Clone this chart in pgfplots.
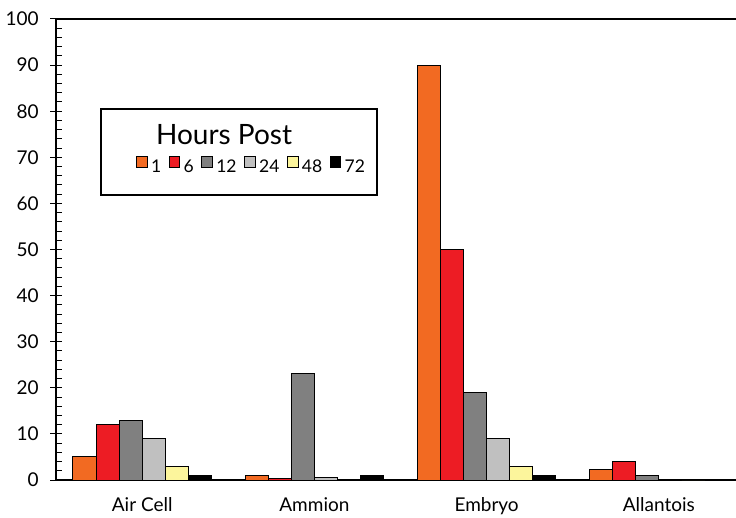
\documentclass[border=0pt]{standalone}
\usepackage{pgfplots}
\pgfplotsset{compat=1.18}
\usepackage{fontspec}
\setmainfont{Lato}
\definecolor{cOrange}{HTML}{F26A22}
\definecolor{cRed}{HTML}{ED1C24}
\definecolor{cGray}{HTML}{808080}
\definecolor{cLight}{HTML}{C0C0C0}
\definecolor{cYellow}{HTML}{FCF59C}
\begin{document}
\begin{tikzpicture}
\useasboundingbox (-56.1pt,-37pt) rectangle (679.9pt,480pt);
\begin{axis}[
  scale only axis, width=679.9pt, height=461pt,
  at={(0pt,0pt)}, anchor=south west,
  xmin=-0.5, xmax=3.448, ymin=0, ymax=100,
  axis x line*=box, axis y line*=left,
  axis line style={line width=1.2pt},
  ybar=0pt, bar width=23.1pt,
  xtick={0,1,2,3}, xticklabels={Air Cell,Ammion,Embryo,Allantois},
  x tick style={draw=none},
  ytick={0,10,...,100}, minor y tick num=4,
  tick align=center,
  major tick length=12pt, minor tick length=6pt,
  y tick style={black, line width=1pt},
  minor y tick style={xshift=3pt},
  tick label style={font=\fontsize{19}{22}\selectfont},
  /pgf/number format/assume math mode=true,
  yticklabel style={xshift=-8pt},
  xticklabel style={yshift=-8pt},
  legend columns=6,
  legend style={draw=none, fill=none, at={(axis description cs:0.286,0.683)}, anchor=center,
    font=\fontsize{17.5}{20}\selectfont,
    nodes={inner sep=0pt},
    /tikz/every odd column/.append style={column sep=3.5pt},
    /tikz/every even column/.append style={column sep=7.5pt}},
  legend image code/.code={\draw[#1,line width=0.8pt] (0pt,0pt) rectangle (10.7pt,10.7pt);},
]
\addplot[fill=cOrange, draw=black, line width=1pt] coordinates {(0,5) (1,1) (2,90) (3,2.2)};
\addplot[fill=cRed, draw=black, line width=1pt] coordinates {(0,12) (1,0.4) (2,50) (3,4.1)};
\addplot[fill=cGray, draw=black, line width=1pt] coordinates {(0,13) (1,23) (2,19) (3,1)};
\addplot[fill=cLight, draw=black, line width=1pt] coordinates {(0,9) (1,0.5) (2,9) (3,0.2)};
\addplot[fill=cYellow, draw=black, line width=1pt] coordinates {(0,3) (1,0.2) (2,3) (3,0)};
\addplot[fill=black, draw=black, line width=1pt] coordinates {(0,1) (1,1) (2,1) (3,0)};
\legend{1,6,12,24,48,72}
\end{axis}
\draw[line width=1.5pt] (44.9pt,285pt) rectangle (320.9pt,371pt);
\node[anchor=base, font=\fontsize{28}{32}\selectfont, inner sep=0pt] at (167.9pt,335pt) {Hours Post};
\end{tikzpicture}
\end{document}
